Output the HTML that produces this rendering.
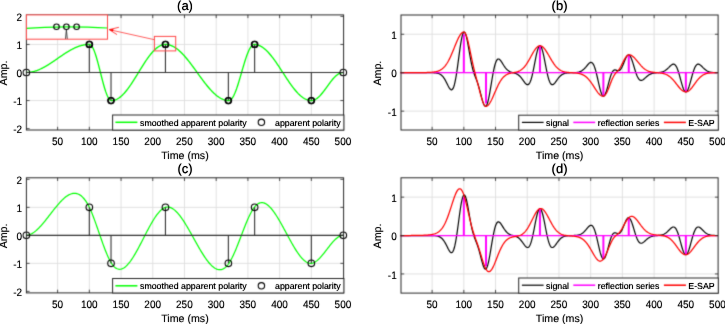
<!DOCTYPE html><html><head><meta charset="utf-8"><style>html,body{margin:0;padding:0;background:#fff;}svg{display:block;}</style></head><body><svg width="725" height="324" viewBox="0 0 725 324" text-rendering="geometricPrecision">
<defs><filter id="bl" x="0" y="0" width="1" height="1" color-interpolation-filters="sRGB"><feConvolveMatrix order="3" kernelMatrix="0.02 0.1 0.02 0.1 0.52 0.1 0.02 0.1 0.02" edgeMode="duplicate"/></filter><filter id="bt" x="0" y="0" width="1" height="1" color-interpolation-filters="sRGB"><feConvolveMatrix order="3" kernelMatrix="0 0.04 0 0.04 0.84 0.04 0 0.04 0" edgeMode="none"/><feComponentTransfer><feFuncA type="linear" slope="1.30"/></feComponentTransfer></filter></defs>
<g filter="url(#bl)">
<rect width="725" height="324" fill="#fff"/>
<g stroke="#dedede" stroke-width="0.90"><line x1="57.62" y1="14.90" x2="57.62" y2="130.00"/><line x1="89.33" y1="14.90" x2="89.33" y2="130.00"/><line x1="121.05" y1="14.90" x2="121.05" y2="130.00"/><line x1="152.76" y1="14.90" x2="152.76" y2="130.00"/><line x1="184.48" y1="14.90" x2="184.48" y2="130.00"/><line x1="216.19" y1="14.90" x2="216.19" y2="130.00"/><line x1="247.91" y1="14.90" x2="247.91" y2="130.00"/><line x1="279.62" y1="14.90" x2="279.62" y2="130.00"/><line x1="311.34" y1="14.90" x2="311.34" y2="130.00"/><line x1="26.40" y1="100.55" x2="343.60" y2="100.55"/><line x1="26.40" y1="72.50" x2="343.60" y2="72.50"/><line x1="26.40" y1="44.45" x2="343.60" y2="44.45"/></g>
<path d="M25.90,72.50 L26.53,72.49 L27.17,72.47 L27.80,72.44 L28.44,72.39 L29.07,72.33 L29.71,72.25 L30.34,72.16 L30.97,72.06 L31.61,71.94 L32.24,71.81 L32.88,71.67 L33.51,71.52 L34.15,71.35 L34.78,71.17 L35.41,70.97 L36.05,70.77 L36.68,70.55 L37.32,70.32 L37.95,70.07 L38.59,69.82 L39.22,69.56 L39.85,69.28 L40.49,69.00 L41.12,68.70 L41.76,68.39 L42.39,68.08 L43.03,67.75 L43.66,67.41 L44.29,67.07 L44.93,66.72 L45.56,66.36 L46.20,65.99 L46.83,65.61 L47.47,65.23 L48.10,64.84 L48.73,64.45 L49.37,64.04 L50.00,63.64 L50.64,63.23 L51.27,62.81 L51.91,62.39 L52.54,61.96 L53.17,61.53 L53.81,61.10 L54.44,60.67 L55.08,60.23 L55.71,59.79 L56.35,59.36 L56.98,58.92 L57.62,58.48 L58.25,58.03 L58.88,57.59 L59.52,57.16 L60.15,56.72 L60.79,56.28 L61.42,55.85 L62.06,55.42 L62.69,54.99 L63.32,54.56 L63.96,54.14 L64.59,53.72 L65.23,53.31 L65.86,52.91 L66.50,52.50 L67.13,52.11 L67.76,51.72 L68.40,51.34 L69.03,50.96 L69.67,50.59 L70.30,50.23 L70.94,49.88 L71.57,49.54 L72.20,49.20 L72.84,48.87 L73.47,48.56 L74.11,48.25 L74.74,47.95 L75.38,47.67 L76.01,47.39 L76.64,47.13 L77.28,46.88 L77.91,46.63 L78.55,46.40 L79.18,46.18 L79.82,45.98 L80.45,45.78 L81.08,45.60 L81.72,45.43 L82.35,45.28 L82.99,45.14 L83.62,45.01 L84.26,44.89 L84.89,44.79 L85.52,44.70 L86.16,44.62 L86.79,44.56 L87.43,44.51 L88.06,44.48 L88.70,44.46 L89.33,44.45 L89.96,44.56 L90.60,44.90 L91.23,45.46 L91.87,46.24 L92.50,47.23 L93.14,48.42 L93.77,49.81 L94.40,51.38 L95.04,53.12 L95.67,55.01 L96.31,57.05 L96.94,59.21 L97.58,61.48 L98.21,63.83 L98.84,66.26 L99.48,68.73 L100.11,71.24 L100.75,73.76 L101.38,76.27 L102.02,78.74 L102.65,81.17 L103.28,83.52 L103.92,85.79 L104.55,87.95 L105.19,89.99 L105.82,91.88 L106.46,93.62 L107.09,95.19 L107.72,96.58 L108.36,97.77 L108.99,98.76 L109.63,99.54 L110.26,100.10 L110.90,100.44 L111.53,100.55 L112.16,100.53 L112.80,100.47 L113.43,100.38 L114.07,100.24 L114.70,100.07 L115.34,99.86 L115.97,99.62 L116.60,99.33 L117.24,99.01 L117.87,98.66 L118.51,98.26 L119.14,97.84 L119.78,97.37 L120.41,96.88 L121.05,96.35 L121.68,95.79 L122.31,95.19 L122.95,94.57 L123.58,93.91 L124.22,93.23 L124.85,92.52 L125.49,91.78 L126.12,91.01 L126.75,90.22 L127.39,89.40 L128.02,88.57 L128.66,87.70 L129.29,86.82 L129.93,85.92 L130.56,85.00 L131.19,84.07 L131.83,83.11 L132.46,82.15 L133.10,81.17 L133.73,80.18 L134.37,79.17 L135.00,78.16 L135.63,77.14 L136.27,76.12 L136.90,75.09 L137.54,74.05 L138.17,73.02 L138.81,71.98 L139.44,70.95 L140.07,69.91 L140.71,68.88 L141.34,67.86 L141.98,66.84 L142.61,65.83 L143.25,64.82 L143.88,63.83 L144.51,62.85 L145.15,61.89 L145.78,60.93 L146.42,60.00 L147.05,59.08 L147.69,58.18 L148.32,57.30 L148.95,56.43 L149.59,55.60 L150.22,54.78 L150.86,53.99 L151.49,53.22 L152.13,52.48 L152.76,51.77 L153.39,51.09 L154.03,50.43 L154.66,49.81 L155.30,49.21 L155.93,48.65 L156.57,48.12 L157.20,47.63 L157.83,47.16 L158.47,46.74 L159.10,46.34 L159.74,45.99 L160.37,45.67 L161.01,45.38 L161.64,45.14 L162.27,44.93 L162.91,44.76 L163.54,44.62 L164.18,44.53 L164.81,44.47 L165.45,44.45 L166.08,44.46 L166.71,44.51 L167.35,44.57 L167.98,44.67 L168.62,44.80 L169.25,44.95 L169.89,45.13 L170.52,45.33 L171.15,45.56 L171.79,45.82 L172.42,46.11 L173.06,46.42 L173.69,46.76 L174.33,47.12 L174.96,47.51 L175.59,47.92 L176.23,48.36 L176.86,48.82 L177.50,49.30 L178.13,49.81 L178.77,50.34 L179.40,50.89 L180.03,51.46 L180.67,52.05 L181.30,52.67 L181.94,53.30 L182.57,53.95 L183.21,54.62 L183.84,55.31 L184.48,56.01 L185.11,56.73 L185.74,57.47 L186.38,58.22 L187.01,58.99 L187.65,59.77 L188.28,60.56 L188.92,61.36 L189.55,62.17 L190.18,63.00 L190.82,63.83 L191.45,64.67 L192.09,65.52 L192.72,66.38 L193.36,67.24 L193.99,68.11 L194.62,68.98 L195.26,69.86 L195.89,70.74 L196.53,71.62 L197.16,72.50 L197.80,73.38 L198.43,74.26 L199.06,75.14 L199.70,76.02 L200.33,76.89 L200.97,77.76 L201.60,78.62 L202.24,79.48 L202.87,80.33 L203.50,81.17 L204.14,82.00 L204.77,82.83 L205.41,83.64 L206.04,84.44 L206.68,85.23 L207.31,86.01 L207.94,86.78 L208.58,87.53 L209.21,88.27 L209.85,88.99 L210.48,89.69 L211.12,90.38 L211.75,91.05 L212.38,91.70 L213.02,92.33 L213.65,92.95 L214.29,93.54 L214.92,94.11 L215.56,94.66 L216.19,95.19 L216.82,95.70 L217.46,96.18 L218.09,96.64 L218.73,97.08 L219.36,97.49 L220.00,97.88 L220.63,98.24 L221.26,98.58 L221.90,98.89 L222.53,99.18 L223.17,99.44 L223.80,99.67 L224.44,99.87 L225.07,100.05 L225.70,100.20 L226.34,100.33 L226.97,100.43 L227.61,100.49 L228.24,100.54 L228.88,100.55 L229.51,100.46 L230.14,100.20 L230.78,99.77 L231.41,99.18 L232.05,98.41 L232.68,97.49 L233.32,96.42 L233.95,95.19 L234.58,93.83 L235.22,92.33 L235.85,90.72 L236.49,88.99 L237.12,87.16 L237.76,85.23 L238.39,83.23 L239.02,81.17 L239.66,79.05 L240.29,76.89 L240.93,74.70 L241.56,72.50 L242.20,70.30 L242.83,68.11 L243.46,65.95 L244.10,63.83 L244.73,61.77 L245.37,59.77 L246.00,57.84 L246.64,56.01 L247.27,54.28 L247.91,52.67 L248.54,51.17 L249.17,49.81 L249.81,48.58 L250.44,47.51 L251.08,46.59 L251.71,45.82 L252.35,45.23 L252.98,44.80 L253.61,44.54 L254.25,44.45 L254.88,44.47 L255.52,44.52 L256.15,44.60 L256.79,44.72 L257.42,44.88 L258.05,45.06 L258.69,45.28 L259.32,45.54 L259.96,45.82 L260.59,46.14 L261.23,46.49 L261.86,46.88 L262.49,47.29 L263.13,47.73 L263.76,48.21 L264.40,48.71 L265.03,49.25 L265.67,49.81 L266.30,50.40 L266.93,51.01 L267.57,51.65 L268.20,52.32 L268.84,53.01 L269.47,53.73 L270.11,54.47 L270.74,55.23 L271.37,56.01 L272.01,56.81 L272.64,57.64 L273.28,58.47 L273.91,59.33 L274.55,60.20 L275.18,61.09 L275.81,61.99 L276.45,62.91 L277.08,63.83 L277.72,64.77 L278.35,65.71 L278.99,66.67 L279.62,67.63 L280.25,68.60 L280.89,69.57 L281.52,70.54 L282.16,71.52 L282.79,72.50 L283.43,73.48 L284.06,74.46 L284.69,75.43 L285.33,76.40 L285.96,77.37 L286.60,78.33 L287.23,79.29 L287.87,80.23 L288.50,81.17 L289.13,82.09 L289.77,83.01 L290.40,83.91 L291.04,84.80 L291.67,85.67 L292.31,86.52 L292.94,87.36 L293.57,88.19 L294.21,88.99 L294.84,89.77 L295.48,90.53 L296.11,91.27 L296.75,91.99 L297.38,92.68 L298.01,93.35 L298.65,93.99 L299.28,94.60 L299.92,95.19 L300.55,95.75 L301.19,96.29 L301.82,96.79 L302.45,97.27 L303.09,97.71 L303.72,98.12 L304.36,98.51 L304.99,98.86 L305.63,99.18 L306.26,99.46 L306.89,99.72 L307.53,99.94 L308.16,100.12 L308.80,100.28 L309.43,100.40 L310.07,100.48 L310.70,100.53 L311.34,100.55 L311.97,100.52 L312.60,100.44 L313.24,100.30 L313.87,100.11 L314.51,99.86 L315.14,99.57 L315.78,99.22 L316.41,98.82 L317.04,98.37 L317.68,97.87 L318.31,97.33 L318.95,96.75 L319.58,96.13 L320.22,95.46 L320.85,94.77 L321.48,94.04 L322.12,93.28 L322.75,92.50 L323.39,91.69 L324.02,90.86 L324.66,90.01 L325.29,89.15 L325.92,88.28 L326.56,87.41 L327.19,86.53 L327.83,85.64 L328.46,84.77 L329.10,83.90 L329.73,83.04 L330.36,82.19 L331.00,81.36 L331.63,80.55 L332.27,79.77 L332.90,79.01 L333.54,78.28 L334.17,77.59 L334.80,76.92 L335.44,76.30 L336.07,75.72 L336.71,75.18 L337.34,74.68 L337.98,74.23 L338.61,73.83 L339.24,73.48 L339.88,73.19 L340.51,72.94 L341.15,72.75 L341.78,72.61 L342.42,72.53 L343.05,72.50" fill="none" stroke="#00ff00" stroke-width="1.30" stroke-linejoin="round"/>
<g stroke="#333" stroke-width="1.1"><line x1="26.40" y1="72.50" x2="343.60" y2="72.50"/><line x1="89.33" y1="72.50" x2="89.33" y2="44.45"/><line x1="111.02" y1="72.50" x2="111.02" y2="100.55"/><line x1="165.45" y1="72.50" x2="165.45" y2="44.45"/><line x1="228.37" y1="72.50" x2="228.37" y2="100.55"/><line x1="254.63" y1="72.50" x2="254.63" y2="44.45"/><line x1="311.34" y1="72.50" x2="311.34" y2="100.55"/></g>
<g fill="none" stroke="#000"><circle cx="26.35" cy="72.50" r="3.3" stroke-width="1.1"/><circle cx="89.13" cy="44.45" r="3.0" stroke-width="1.3"/><circle cx="89.53" cy="44.45" r="3.0" stroke-width="1.3"/><circle cx="110.82" cy="100.55" r="3.0" stroke-width="1.3"/><circle cx="111.22" cy="100.55" r="3.0" stroke-width="1.3"/><circle cx="165.25" cy="44.45" r="3.0" stroke-width="1.3"/><circle cx="165.65" cy="44.45" r="3.0" stroke-width="1.3"/><circle cx="228.17" cy="100.55" r="3.0" stroke-width="1.3"/><circle cx="228.57" cy="100.55" r="3.0" stroke-width="1.3"/><circle cx="254.43" cy="44.45" r="3.0" stroke-width="1.3"/><circle cx="254.83" cy="44.45" r="3.0" stroke-width="1.3"/><circle cx="311.14" cy="100.55" r="3.0" stroke-width="1.3"/><circle cx="311.54" cy="100.55" r="3.0" stroke-width="1.3"/><circle cx="343.30" cy="72.50" r="3.3" stroke-width="1.1"/></g>
<g stroke="#262626" stroke-width="0.8"><line x1="57.62" y1="130.00" x2="57.62" y2="126.80"/><line x1="57.62" y1="14.90" x2="57.62" y2="18.10"/><line x1="89.33" y1="130.00" x2="89.33" y2="126.80"/><line x1="89.33" y1="14.90" x2="89.33" y2="18.10"/><line x1="121.05" y1="130.00" x2="121.05" y2="126.80"/><line x1="121.05" y1="14.90" x2="121.05" y2="18.10"/><line x1="152.76" y1="130.00" x2="152.76" y2="126.80"/><line x1="152.76" y1="14.90" x2="152.76" y2="18.10"/><line x1="184.48" y1="130.00" x2="184.48" y2="126.80"/><line x1="184.48" y1="14.90" x2="184.48" y2="18.10"/><line x1="216.19" y1="130.00" x2="216.19" y2="126.80"/><line x1="216.19" y1="14.90" x2="216.19" y2="18.10"/><line x1="247.91" y1="130.00" x2="247.91" y2="126.80"/><line x1="247.91" y1="14.90" x2="247.91" y2="18.10"/><line x1="279.62" y1="130.00" x2="279.62" y2="126.80"/><line x1="279.62" y1="14.90" x2="279.62" y2="18.10"/><line x1="311.34" y1="130.00" x2="311.34" y2="126.80"/><line x1="311.34" y1="14.90" x2="311.34" y2="18.10"/><line x1="26.40" y1="128.60" x2="29.60" y2="128.60"/><line x1="343.60" y1="128.60" x2="340.40" y2="128.60"/><line x1="26.40" y1="100.55" x2="29.60" y2="100.55"/><line x1="343.60" y1="100.55" x2="340.40" y2="100.55"/><line x1="26.40" y1="72.50" x2="29.60" y2="72.50"/><line x1="343.60" y1="72.50" x2="340.40" y2="72.50"/><line x1="26.40" y1="44.45" x2="29.60" y2="44.45"/><line x1="343.60" y1="44.45" x2="340.40" y2="44.45"/><line x1="26.40" y1="16.40" x2="29.60" y2="16.40"/><line x1="343.60" y1="16.40" x2="340.40" y2="16.40"/></g>
<rect x="26.40" y="14.90" width="317.20" height="115.10" fill="none" stroke="#262626" stroke-width="1.00"/>
<rect x="112.60" y="115.00" width="231.30" height="15.10" fill="#fff" stroke="#262626" stroke-width="1.00"/>
<line x1="115.4" y1="122.30" x2="137.4" y2="122.30" stroke="#00ff00" stroke-width="1.5"/>
<circle cx="261.4" cy="122.30" r="3.2" fill="none" stroke="#000" stroke-width="1.1"/>
<g stroke="#dedede" stroke-width="0.90"><line x1="57.62" y1="177.80" x2="57.62" y2="292.90"/><line x1="89.33" y1="177.80" x2="89.33" y2="292.90"/><line x1="121.05" y1="177.80" x2="121.05" y2="292.90"/><line x1="152.76" y1="177.80" x2="152.76" y2="292.90"/><line x1="184.48" y1="177.80" x2="184.48" y2="292.90"/><line x1="216.19" y1="177.80" x2="216.19" y2="292.90"/><line x1="247.91" y1="177.80" x2="247.91" y2="292.90"/><line x1="279.62" y1="177.80" x2="279.62" y2="292.90"/><line x1="311.34" y1="177.80" x2="311.34" y2="292.90"/><line x1="26.40" y1="263.35" x2="343.60" y2="263.35"/><line x1="26.40" y1="235.35" x2="343.60" y2="235.35"/><line x1="26.40" y1="207.35" x2="343.60" y2="207.35"/></g>
<path d="M25.90,235.35 L26.53,235.33 L27.17,235.27 L27.80,235.16 L28.44,235.02 L29.07,234.84 L29.71,234.62 L30.34,234.36 L30.97,234.07 L31.61,233.75 L32.24,233.39 L32.88,233.00 L33.51,232.58 L34.15,232.13 L34.78,231.65 L35.41,231.15 L36.05,230.62 L36.68,230.06 L37.32,229.48 L37.95,228.88 L38.59,228.26 L39.22,227.61 L39.85,226.95 L40.49,226.27 L41.12,225.57 L41.76,224.85 L42.39,224.12 L43.03,223.37 L43.66,222.62 L44.29,221.85 L44.93,221.07 L45.56,220.28 L46.20,219.48 L46.83,218.68 L47.47,217.87 L48.10,217.06 L48.73,216.24 L49.37,215.42 L50.00,214.59 L50.64,213.77 L51.27,212.95 L51.91,212.13 L52.54,211.31 L53.17,210.50 L53.81,209.69 L54.44,208.89 L55.08,208.10 L55.71,207.31 L56.35,206.53 L56.98,205.77 L57.62,205.02 L58.25,204.28 L58.88,203.55 L59.52,202.84 L60.15,202.15 L60.79,201.47 L61.42,200.81 L62.06,200.17 L62.69,199.56 L63.32,198.96 L63.96,198.39 L64.59,197.84 L65.23,197.32 L65.86,196.82 L66.50,196.36 L67.13,195.92 L67.76,195.51 L68.40,195.13 L69.03,194.78 L69.67,194.47 L70.30,194.19 L70.94,193.95 L71.57,193.74 L72.20,193.57 L72.84,193.44 L73.47,193.35 L74.11,193.30 L74.74,193.29 L75.38,193.33 L76.01,193.41 L76.64,193.54 L77.28,193.71 L77.91,193.93 L78.55,194.20 L79.18,194.52 L79.82,194.89 L80.45,195.31 L81.08,195.79 L81.72,196.32 L82.35,196.91 L82.99,197.55 L83.62,198.25 L84.26,199.01 L84.89,199.83 L85.52,200.71 L86.16,201.66 L86.79,202.66 L87.43,203.74 L88.06,204.87 L88.70,206.08 L89.33,207.35 L89.96,208.69 L90.60,210.10 L91.23,211.56 L91.87,213.08 L92.50,214.65 L93.14,216.27 L93.77,217.93 L94.40,219.63 L95.04,221.36 L95.67,223.12 L96.31,224.91 L96.94,226.71 L97.58,228.53 L98.21,230.36 L98.84,232.20 L99.48,234.04 L100.11,235.87 L100.75,237.70 L101.38,239.52 L102.02,241.32 L102.65,243.10 L103.28,244.86 L103.92,246.58 L104.55,248.27 L105.19,249.93 L105.82,251.54 L106.46,253.10 L107.09,254.61 L107.72,256.06 L108.36,257.46 L108.99,258.78 L109.63,260.04 L110.26,261.22 L110.90,262.33 L111.53,263.35 L112.16,264.28 L112.80,265.13 L113.43,265.90 L114.07,266.58 L114.70,267.18 L115.34,267.70 L115.97,268.14 L116.60,268.51 L117.24,268.80 L117.87,269.03 L118.51,269.18 L119.14,269.26 L119.78,269.28 L120.41,269.23 L121.05,269.11 L121.68,268.94 L122.31,268.70 L122.95,268.41 L123.58,268.06 L124.22,267.66 L124.85,267.20 L125.49,266.69 L126.12,266.13 L126.75,265.53 L127.39,264.88 L128.02,264.18 L128.66,263.44 L129.29,262.66 L129.93,261.84 L130.56,260.99 L131.19,260.09 L131.83,259.17 L132.46,258.21 L133.10,257.22 L133.73,256.21 L134.37,255.16 L135.00,254.09 L135.63,253.00 L136.27,251.89 L136.90,250.75 L137.54,249.60 L138.17,248.43 L138.81,247.25 L139.44,246.05 L140.07,244.85 L140.71,243.63 L141.34,242.41 L141.98,241.18 L142.61,239.94 L143.25,238.70 L143.88,237.47 L144.51,236.23 L145.15,234.99 L145.78,233.76 L146.42,232.54 L147.05,231.32 L147.69,230.12 L148.32,228.92 L148.95,227.74 L149.59,226.58 L150.22,225.43 L150.86,224.29 L151.49,223.18 L152.13,222.09 L152.76,221.03 L153.39,219.99 L154.03,218.97 L154.66,217.99 L155.30,217.03 L155.93,216.11 L156.57,215.22 L157.20,214.37 L157.83,213.56 L158.47,212.78 L159.10,212.05 L159.74,211.36 L160.37,210.71 L161.01,210.11 L161.64,209.56 L162.27,209.06 L162.91,208.61 L163.54,208.21 L164.18,207.86 L164.81,207.58 L165.45,207.35 L166.08,207.18 L166.71,207.07 L167.35,207.02 L167.98,207.02 L168.62,207.08 L169.25,207.20 L169.89,207.36 L170.52,207.58 L171.15,207.84 L171.79,208.15 L172.42,208.51 L173.06,208.92 L173.69,209.37 L174.33,209.86 L174.96,210.39 L175.59,210.96 L176.23,211.58 L176.86,212.22 L177.50,212.91 L178.13,213.63 L178.77,214.38 L179.40,215.16 L180.03,215.98 L180.67,216.82 L181.30,217.69 L181.94,218.59 L182.57,219.51 L183.21,220.46 L183.84,221.43 L184.48,222.42 L185.11,223.43 L185.74,224.45 L186.38,225.50 L187.01,226.56 L187.65,227.63 L188.28,228.72 L188.92,229.82 L189.55,230.93 L190.18,232.05 L190.82,233.17 L191.45,234.30 L192.09,235.44 L192.72,236.58 L193.36,237.72 L193.99,238.87 L194.62,240.01 L195.26,241.15 L195.89,242.29 L196.53,243.42 L197.16,244.54 L197.80,245.66 L198.43,246.77 L199.06,247.87 L199.70,248.96 L200.33,250.04 L200.97,251.10 L201.60,252.15 L202.24,253.18 L202.87,254.19 L203.50,255.18 L204.14,256.15 L204.77,257.10 L205.41,258.03 L206.04,258.93 L206.68,259.80 L207.31,260.65 L207.94,261.47 L208.58,262.25 L209.21,263.01 L209.85,263.73 L210.48,264.42 L211.12,265.07 L211.75,265.69 L212.38,266.26 L213.02,266.80 L213.65,267.30 L214.29,267.75 L214.92,268.16 L215.56,268.52 L216.19,268.84 L216.82,269.11 L217.46,269.33 L218.09,269.50 L218.73,269.62 L219.36,269.69 L220.00,269.70 L220.63,269.65 L221.26,269.55 L221.90,269.39 L222.53,269.17 L223.17,268.88 L223.80,268.54 L224.44,268.13 L225.07,267.65 L225.70,267.11 L226.34,266.50 L226.97,265.82 L227.61,265.07 L228.24,264.25 L228.88,263.35 L229.51,262.38 L230.14,261.34 L230.78,260.23 L231.41,259.06 L232.05,257.83 L232.68,256.54 L233.32,255.20 L233.95,253.81 L234.58,252.38 L235.22,250.91 L235.85,249.41 L236.49,247.87 L237.12,246.30 L237.76,244.71 L238.39,243.09 L239.02,241.47 L239.66,239.82 L240.29,238.17 L240.93,236.51 L241.56,234.85 L242.20,233.20 L242.83,231.55 L243.46,229.91 L244.10,228.28 L244.73,226.68 L245.37,225.09 L246.00,223.53 L246.64,222.00 L247.27,220.50 L247.91,219.04 L248.54,217.63 L249.17,216.25 L249.81,214.93 L250.44,213.66 L251.08,212.44 L251.71,211.29 L252.35,210.20 L252.98,209.17 L253.61,208.22 L254.25,207.35 L254.88,206.56 L255.52,205.84 L256.15,205.20 L256.79,204.63 L257.42,204.14 L258.05,203.72 L258.69,203.37 L259.32,203.09 L259.96,202.88 L260.59,202.73 L261.23,202.65 L261.86,202.63 L262.49,202.67 L263.13,202.77 L263.76,202.92 L264.40,203.14 L265.03,203.40 L265.67,203.73 L266.30,204.10 L266.93,204.52 L267.57,204.99 L268.20,205.50 L268.84,206.07 L269.47,206.67 L270.11,207.32 L270.74,208.00 L271.37,208.73 L272.01,209.49 L272.64,210.29 L273.28,211.12 L273.91,211.99 L274.55,212.88 L275.18,213.81 L275.81,214.76 L276.45,215.74 L277.08,216.74 L277.72,217.77 L278.35,218.82 L278.99,219.88 L279.62,220.97 L280.25,222.07 L280.89,223.19 L281.52,224.32 L282.16,225.46 L282.79,226.61 L283.43,227.77 L284.06,228.94 L284.69,230.11 L285.33,231.29 L285.96,232.47 L286.60,233.65 L287.23,234.82 L287.87,236.00 L288.50,237.17 L289.13,238.34 L289.77,239.50 L290.40,240.65 L291.04,241.79 L291.67,242.92 L292.31,244.04 L292.94,245.14 L293.57,246.22 L294.21,247.28 L294.84,248.33 L295.48,249.35 L296.11,250.35 L296.75,251.33 L297.38,252.28 L298.01,253.20 L298.65,254.09 L299.28,254.96 L299.92,255.79 L300.55,256.58 L301.19,257.34 L301.82,258.06 L302.45,258.75 L303.09,259.39 L303.72,259.99 L304.36,260.55 L304.99,261.06 L305.63,261.53 L306.26,261.94 L306.89,262.31 L307.53,262.63 L308.16,262.89 L308.80,263.10 L309.43,263.25 L310.07,263.34 L310.70,263.38 L311.34,263.35 L311.97,263.26 L312.60,263.11 L313.24,262.91 L313.87,262.65 L314.51,262.33 L315.14,261.97 L315.78,261.56 L316.41,261.10 L317.04,260.61 L317.68,260.07 L318.31,259.50 L318.95,258.89 L319.58,258.25 L320.22,257.58 L320.85,256.88 L321.48,256.16 L322.12,255.41 L322.75,254.65 L323.39,253.87 L324.02,253.08 L324.66,252.27 L325.29,251.46 L325.92,250.64 L326.56,249.82 L327.19,248.99 L327.83,248.17 L328.46,247.34 L329.10,246.53 L329.73,245.72 L330.36,244.93 L331.00,244.15 L331.63,243.38 L332.27,242.64 L332.90,241.92 L333.54,241.22 L334.17,240.54 L334.80,239.90 L335.44,239.29 L336.07,238.71 L336.71,238.17 L337.34,237.67 L337.98,237.21 L338.61,236.79 L339.24,236.43 L339.88,236.11 L340.51,235.84 L341.15,235.63 L341.78,235.48 L342.42,235.38 L343.05,235.35" fill="none" stroke="#00ff00" stroke-width="1.20" stroke-linejoin="round"/>
<g stroke="#333" stroke-width="1.1"><line x1="26.40" y1="235.35" x2="343.60" y2="235.35"/><line x1="89.33" y1="235.35" x2="89.33" y2="207.35"/><line x1="111.02" y1="235.35" x2="111.02" y2="263.35"/><line x1="165.45" y1="235.35" x2="165.45" y2="207.35"/><line x1="228.37" y1="235.35" x2="228.37" y2="263.35"/><line x1="254.63" y1="235.35" x2="254.63" y2="207.35"/><line x1="311.34" y1="235.35" x2="311.34" y2="263.35"/></g>
<g fill="none" stroke="#000"><circle cx="26.35" cy="235.35" r="3.3" stroke-width="1.1"/><circle cx="89.33" cy="207.35" r="3.3" stroke-width="1.1"/><circle cx="111.02" cy="263.35" r="3.3" stroke-width="1.1"/><circle cx="165.45" cy="207.35" r="3.3" stroke-width="1.1"/><circle cx="228.37" cy="263.35" r="3.3" stroke-width="1.1"/><circle cx="254.63" cy="207.35" r="3.3" stroke-width="1.1"/><circle cx="311.34" cy="263.35" r="3.3" stroke-width="1.1"/><circle cx="343.30" cy="235.35" r="3.3" stroke-width="1.1"/></g>
<g stroke="#262626" stroke-width="0.8"><line x1="57.62" y1="292.90" x2="57.62" y2="289.70"/><line x1="57.62" y1="177.80" x2="57.62" y2="181.00"/><line x1="89.33" y1="292.90" x2="89.33" y2="289.70"/><line x1="89.33" y1="177.80" x2="89.33" y2="181.00"/><line x1="121.05" y1="292.90" x2="121.05" y2="289.70"/><line x1="121.05" y1="177.80" x2="121.05" y2="181.00"/><line x1="152.76" y1="292.90" x2="152.76" y2="289.70"/><line x1="152.76" y1="177.80" x2="152.76" y2="181.00"/><line x1="184.48" y1="292.90" x2="184.48" y2="289.70"/><line x1="184.48" y1="177.80" x2="184.48" y2="181.00"/><line x1="216.19" y1="292.90" x2="216.19" y2="289.70"/><line x1="216.19" y1="177.80" x2="216.19" y2="181.00"/><line x1="247.91" y1="292.90" x2="247.91" y2="289.70"/><line x1="247.91" y1="177.80" x2="247.91" y2="181.00"/><line x1="279.62" y1="292.90" x2="279.62" y2="289.70"/><line x1="279.62" y1="177.80" x2="279.62" y2="181.00"/><line x1="311.34" y1="292.90" x2="311.34" y2="289.70"/><line x1="311.34" y1="177.80" x2="311.34" y2="181.00"/><line x1="26.40" y1="291.35" x2="29.60" y2="291.35"/><line x1="343.60" y1="291.35" x2="340.40" y2="291.35"/><line x1="26.40" y1="263.35" x2="29.60" y2="263.35"/><line x1="343.60" y1="263.35" x2="340.40" y2="263.35"/><line x1="26.40" y1="235.35" x2="29.60" y2="235.35"/><line x1="343.60" y1="235.35" x2="340.40" y2="235.35"/><line x1="26.40" y1="207.35" x2="29.60" y2="207.35"/><line x1="343.60" y1="207.35" x2="340.40" y2="207.35"/><line x1="26.40" y1="179.35" x2="29.60" y2="179.35"/><line x1="343.60" y1="179.35" x2="340.40" y2="179.35"/></g>
<rect x="26.40" y="177.80" width="317.20" height="115.10" fill="none" stroke="#262626" stroke-width="1.00"/>
<rect x="112.60" y="278.50" width="231.30" height="14.50" fill="#fff" stroke="#262626" stroke-width="1.00"/>
<line x1="115.4" y1="285.80" x2="137.4" y2="285.80" stroke="#00ff00" stroke-width="1.5"/>
<circle cx="261.4" cy="285.80" r="3.2" fill="none" stroke="#000" stroke-width="1.1"/>
<g stroke="#dedede" stroke-width="0.90"><line x1="432.11" y1="15.00" x2="432.11" y2="130.00"/><line x1="463.83" y1="15.00" x2="463.83" y2="130.00"/><line x1="495.54" y1="15.00" x2="495.54" y2="130.00"/><line x1="527.26" y1="15.00" x2="527.26" y2="130.00"/><line x1="558.97" y1="15.00" x2="558.97" y2="130.00"/><line x1="590.69" y1="15.00" x2="590.69" y2="130.00"/><line x1="622.40" y1="15.00" x2="622.40" y2="130.00"/><line x1="654.12" y1="15.00" x2="654.12" y2="130.00"/><line x1="685.84" y1="15.00" x2="685.84" y2="130.00"/><line x1="401.00" y1="111.15" x2="718.10" y2="111.15"/><line x1="401.00" y1="72.70" x2="718.10" y2="72.70"/><line x1="401.00" y1="34.25" x2="718.10" y2="34.25"/></g>
<path d="M400.40,72.70 L401.03,72.70 L401.67,72.70 L402.30,72.70 L402.94,72.70 L403.57,72.70 L404.21,72.70 L404.84,72.70 L405.47,72.70 L406.11,72.70 L406.74,72.70 L407.38,72.70 L408.01,72.70 L408.65,72.70 L409.28,72.70 L409.91,72.70 L410.55,72.70 L411.18,72.70 L411.82,72.70 L412.45,72.70 L413.09,72.70 L413.72,72.70 L414.35,72.70 L414.99,72.70 L415.62,72.70 L416.26,72.70 L416.89,72.70 L417.53,72.70 L418.16,72.70 L418.79,72.70 L419.43,72.70 L420.06,72.70 L420.70,72.70 L421.33,72.70 L421.97,72.70 L422.60,72.70 L423.23,72.70 L423.87,72.70 L424.50,72.70 L425.14,72.70 L425.77,72.70 L426.41,72.70 L427.04,72.70 L427.67,72.70 L428.31,72.70 L428.94,72.71 L429.58,72.71 L430.21,72.71 L430.85,72.72 L431.48,72.73 L432.11,72.74 L432.75,72.75 L433.38,72.77 L434.02,72.80 L434.65,72.84 L435.29,72.89 L435.92,72.96 L436.56,73.05 L437.19,73.17 L437.82,73.32 L438.46,73.51 L439.09,73.74 L439.73,74.04 L440.36,74.40 L441.00,74.83 L441.63,75.35 L442.26,75.96 L442.90,76.67 L443.53,77.48 L444.17,78.40 L444.80,79.42 L445.44,80.54 L446.07,81.73 L446.70,82.99 L447.34,84.26 L447.97,85.53 L448.61,86.74 L449.24,87.83 L449.88,88.75 L450.51,89.43 L451.14,89.80 L451.78,89.80 L452.41,89.36 L453.05,88.43 L453.68,86.97 L454.32,84.95 L454.95,82.37 L455.58,79.24 L456.22,75.60 L456.85,71.52 L457.49,67.09 L458.12,62.42 L458.76,57.64 L459.39,52.90 L460.02,48.33 L460.66,44.09 L461.29,40.33 L461.93,37.16 L462.56,34.69 L463.20,33.00 L463.83,32.13 L464.46,32.10 L465.10,32.87 L465.73,34.40 L466.37,36.60 L467.00,39.36 L467.64,42.55 L468.27,46.04 L468.90,49.70 L469.54,53.38 L470.17,56.98 L470.81,60.41 L471.44,63.58 L472.08,66.46 L472.71,69.02 L473.34,71.30 L473.98,73.31 L474.61,75.11 L475.25,76.77 L475.88,78.37 L476.52,79.98 L477.15,81.66 L477.78,83.47 L478.42,85.45 L479.05,87.59 L479.69,89.89 L480.32,92.32 L480.96,94.80 L481.59,97.28 L482.22,99.64 L482.86,101.79 L483.49,103.63 L484.13,105.06 L484.76,105.99 L485.40,106.35 L486.03,106.11 L486.66,105.23 L487.30,103.72 L487.93,101.61 L488.57,98.97 L489.20,95.88 L489.84,92.42 L490.47,88.71 L491.10,84.87 L491.74,81.02 L492.37,77.26 L493.01,73.69 L493.64,70.42 L494.28,67.50 L494.91,64.98 L495.54,62.91 L496.18,61.29 L496.81,60.12 L497.45,59.37 L498.08,59.02 L498.72,59.02 L499.35,59.32 L499.99,59.86 L500.62,60.60 L501.25,61.47 L501.89,62.44 L502.52,63.45 L503.16,64.47 L503.79,65.47 L504.43,66.43 L505.06,67.33 L505.69,68.14 L506.33,68.88 L506.96,69.54 L507.60,70.11 L508.23,70.61 L508.87,71.03 L509.50,71.40 L510.13,71.70 L510.77,71.96 L511.40,72.19 L512.04,72.39 L512.67,72.57 L513.31,72.75 L513.94,72.92 L514.57,73.11 L515.21,73.32 L515.84,73.55 L516.48,73.83 L517.11,74.15 L517.75,74.52 L518.38,74.96 L519.01,75.46 L519.65,76.04 L520.28,76.68 L520.92,77.40 L521.55,78.18 L522.19,79.02 L522.82,79.90 L523.45,80.79 L524.09,81.68 L524.72,82.53 L525.36,83.29 L525.99,83.94 L526.63,84.41 L527.26,84.68 L527.89,84.68 L528.53,84.37 L529.16,83.72 L529.80,82.71 L530.43,81.30 L531.07,79.50 L531.70,77.32 L532.33,74.79 L532.97,71.96 L533.60,68.88 L534.24,65.65 L534.87,62.36 L535.51,59.10 L536.14,55.99 L536.77,53.13 L537.41,50.62 L538.04,48.57 L538.68,47.04 L539.31,46.10 L539.95,45.78 L540.58,46.10 L541.21,47.04 L541.85,48.57 L542.48,50.62 L543.12,53.13 L543.75,55.99 L544.39,59.10 L545.02,62.36 L545.65,65.65 L546.29,68.88 L546.92,71.96 L547.56,74.79 L548.19,77.32 L548.83,79.50 L549.46,81.30 L550.09,82.71 L550.73,83.72 L551.36,84.37 L552.00,84.68 L552.63,84.68 L553.27,84.41 L553.90,83.94 L554.53,83.29 L555.17,82.53 L555.80,81.68 L556.44,80.79 L557.07,79.90 L557.71,79.02 L558.34,78.19 L558.97,77.41 L559.61,76.69 L560.24,76.05 L560.88,75.48 L561.51,74.98 L562.15,74.55 L562.78,74.19 L563.42,73.89 L564.05,73.64 L564.68,73.43 L565.32,73.27 L565.95,73.13 L566.59,73.03 L567.22,72.95 L567.86,72.88 L568.49,72.83 L569.12,72.79 L569.76,72.76 L570.39,72.74 L571.03,72.72 L571.66,72.70 L572.30,72.69 L572.93,72.67 L573.56,72.65 L574.20,72.62 L574.83,72.59 L575.47,72.54 L576.10,72.49 L576.74,72.42 L577.37,72.33 L578.00,72.22 L578.64,72.07 L579.27,71.90 L579.91,71.68 L580.54,71.42 L581.18,71.11 L581.81,70.75 L582.44,70.32 L583.08,69.83 L583.71,69.28 L584.35,68.67 L584.98,68.00 L585.62,67.28 L586.25,66.53 L586.88,65.76 L587.52,65.00 L588.15,64.28 L588.79,63.62 L589.42,63.07 L590.06,62.66 L590.69,62.44 L591.32,62.44 L591.96,62.70 L592.59,63.25 L593.23,64.13 L593.86,65.33 L594.50,66.88 L595.13,68.75 L595.76,70.92 L596.40,73.35 L597.03,75.99 L597.67,78.76 L598.30,81.60 L598.94,84.40 L599.57,87.09 L600.20,89.56 L600.84,91.74 L601.47,93.54 L602.11,94.90 L602.74,95.78 L603.38,96.13 L604.01,95.97 L604.64,95.29 L605.28,94.15 L605.91,92.58 L606.55,90.67 L607.18,88.49 L607.82,86.14 L608.45,83.72 L609.08,81.31 L609.72,79.00 L610.35,76.87 L610.99,74.98 L611.62,73.37 L612.26,72.08 L612.89,71.10 L613.52,70.44 L614.16,70.06 L614.79,69.92 L615.43,69.97 L616.06,70.13 L616.70,70.36 L617.33,70.57 L617.96,70.71 L618.60,70.71 L619.23,70.53 L619.87,70.13 L620.50,69.50 L621.14,68.62 L621.77,67.52 L622.40,66.21 L623.04,64.75 L623.67,63.18 L624.31,61.58 L624.94,60.00 L625.58,58.53 L626.21,57.23 L626.85,56.17 L627.48,55.40 L628.11,54.98 L628.75,54.91 L629.38,55.23 L630.02,55.92 L630.65,56.98 L631.29,58.35 L631.92,60.00 L632.55,61.87 L633.19,63.90 L633.82,66.01 L634.46,68.14 L635.09,70.22 L635.73,72.21 L636.36,74.03 L636.99,75.66 L637.63,77.06 L638.26,78.22 L638.90,79.13 L639.53,79.79 L640.17,80.20 L640.80,80.40 L641.43,80.40 L642.07,80.23 L642.70,79.92 L643.34,79.51 L643.97,79.02 L644.61,78.47 L645.24,77.90 L645.87,77.33 L646.51,76.77 L647.14,76.23 L647.78,75.73 L648.41,75.27 L649.05,74.85 L649.68,74.48 L650.31,74.16 L650.95,73.89 L651.58,73.65 L652.22,73.46 L652.85,73.29 L653.49,73.16 L654.12,73.04 L654.75,72.95 L655.39,72.87 L656.02,72.81 L656.66,72.75 L657.29,72.69 L657.93,72.63 L658.56,72.57 L659.19,72.50 L659.83,72.41 L660.46,72.31 L661.10,72.19 L661.73,72.04 L662.37,71.86 L663.00,71.64 L663.63,71.38 L664.27,71.07 L664.90,70.72 L665.54,70.31 L666.17,69.85 L666.81,69.34 L667.44,68.78 L668.07,68.18 L668.71,67.56 L669.34,66.92 L669.98,66.28 L670.61,65.68 L671.25,65.13 L671.88,64.67 L672.51,64.33 L673.15,64.15 L673.78,64.15 L674.42,64.36 L675.05,64.83 L675.69,65.55 L676.32,66.56 L676.95,67.84 L677.59,69.40 L678.22,71.21 L678.86,73.23 L679.49,75.43 L680.13,77.73 L680.76,80.09 L681.39,82.41 L682.03,84.64 L682.66,86.68 L683.30,88.47 L683.93,89.94 L684.57,91.03 L685.20,91.70 L685.84,91.93 L686.47,91.70 L687.10,91.03 L687.74,89.94 L688.37,88.47 L689.01,86.68 L689.64,84.64 L690.28,82.41 L690.91,80.09 L691.54,77.73 L692.18,75.43 L692.81,73.23 L693.45,71.21 L694.08,69.40 L694.72,67.84 L695.35,66.56 L695.98,65.55 L696.62,64.83 L697.25,64.36 L697.89,64.15 L698.52,64.15 L699.16,64.33 L699.79,64.67 L700.42,65.13 L701.06,65.68 L701.69,66.28 L702.33,66.92 L702.96,67.56 L703.60,68.18 L704.23,68.78 L704.86,69.34 L705.50,69.85 L706.13,70.31 L706.77,70.72 L707.40,71.07 L708.04,71.38 L708.67,71.64 L709.30,71.85 L709.94,72.03 L710.57,72.18 L711.21,72.30 L711.84,72.39 L712.48,72.47 L713.11,72.52 L713.74,72.57 L714.38,72.60 L715.01,72.63 L715.65,72.65 L716.28,72.66 L716.92,72.67 L717.55,72.68" fill="none" stroke="#000" stroke-width="1.2" stroke-linejoin="round"/>
<g stroke="#ff00ff" stroke-width="1.2"><line x1="400.40" y1="72.70" x2="717.55" y2="72.70"/></g>
<g stroke="#ff00ff" stroke-width="2"><line x1="463.83" y1="72.70" x2="463.83" y2="34.25"/><line x1="486.03" y1="72.70" x2="486.03" y2="103.46"/><line x1="539.95" y1="72.70" x2="539.95" y2="45.79"/><line x1="603.38" y1="72.70" x2="603.38" y2="95.77"/><line x1="628.75" y1="72.70" x2="628.75" y2="55.40"/><line x1="685.84" y1="72.70" x2="685.84" y2="91.93"/></g>
<path d="M400.40,72.70 L401.03,72.70 L401.67,72.70 L402.30,72.70 L402.94,72.70 L403.57,72.70 L404.21,72.70 L404.84,72.70 L405.47,72.69 L406.11,72.69 L406.74,72.69 L407.38,72.69 L408.01,72.69 L408.65,72.69 L409.28,72.69 L409.91,72.68 L410.55,72.68 L411.18,72.68 L411.82,72.68 L412.45,72.67 L413.09,72.67 L413.72,72.67 L414.35,72.67 L414.99,72.66 L415.62,72.66 L416.26,72.66 L416.89,72.65 L417.53,72.65 L418.16,72.64 L418.79,72.64 L419.43,72.63 L420.06,72.62 L420.70,72.62 L421.33,72.61 L421.97,72.60 L422.60,72.59 L423.23,72.58 L423.87,72.57 L424.50,72.56 L425.14,72.54 L425.77,72.52 L426.41,72.51 L427.04,72.49 L427.67,72.46 L428.31,72.44 L428.94,72.41 L429.58,72.38 L430.21,72.34 L430.85,72.30 L431.48,72.25 L432.11,72.19 L432.75,72.13 L433.38,72.05 L434.02,71.97 L434.65,71.87 L435.29,71.76 L435.92,71.63 L436.56,71.48 L437.19,71.31 L437.82,71.12 L438.46,70.89 L439.09,70.64 L439.73,70.35 L440.36,70.02 L441.00,69.65 L441.63,69.23 L442.26,68.77 L442.90,68.24 L443.53,67.66 L444.17,67.02 L444.80,66.31 L445.44,65.54 L446.07,64.69 L446.70,63.77 L447.34,62.77 L447.97,61.71 L448.61,60.56 L449.24,59.35 L449.88,58.06 L450.51,56.72 L451.14,55.31 L451.78,53.84 L452.41,52.34 L453.05,50.79 L453.68,49.22 L454.32,47.64 L454.95,46.06 L455.58,44.49 L456.22,42.95 L456.85,41.45 L457.49,40.01 L458.12,38.65 L458.76,37.37 L459.39,36.21 L460.02,35.16 L460.66,34.24 L461.29,33.47 L461.93,32.85 L462.56,32.40 L463.20,32.11 L463.83,32.00 L464.46,32.22 L465.10,32.91 L465.73,34.05 L466.37,35.63 L467.00,37.59 L467.64,39.89 L468.27,42.48 L468.90,45.28 L469.54,48.24 L470.17,51.29 L470.81,54.38 L471.44,57.44 L472.08,60.45 L472.71,63.36 L473.34,66.17 L473.98,68.86 L474.61,71.44 L475.25,73.94 L475.88,76.39 L476.52,78.80 L477.15,81.22 L477.78,83.66 L478.42,86.12 L479.05,88.59 L479.69,91.06 L480.32,93.50 L480.96,95.86 L481.59,98.09 L482.22,100.15 L482.86,101.99 L483.49,103.55 L484.13,104.80 L484.76,105.69 L485.40,106.22 L486.03,106.35 L486.66,106.20 L487.30,105.88 L487.93,105.39 L488.57,104.74 L489.20,103.94 L489.84,103.00 L490.47,101.94 L491.10,100.77 L491.74,99.50 L492.37,98.15 L493.01,96.75 L493.64,95.30 L494.28,93.83 L494.91,92.35 L495.54,90.88 L496.18,89.43 L496.81,88.02 L497.45,86.64 L498.08,85.33 L498.72,84.08 L499.35,82.89 L499.99,81.78 L500.62,80.75 L501.25,79.79 L501.89,78.92 L502.52,78.12 L503.16,77.40 L503.79,76.75 L504.43,76.17 L505.06,75.65 L505.69,75.20 L506.33,74.80 L506.96,74.45 L507.60,74.15 L508.23,73.88 L508.87,73.65 L509.50,73.46 L510.13,73.28 L510.77,73.13 L511.40,73.00 L512.04,72.87 L512.67,72.76 L513.31,72.64 L513.94,72.53 L514.57,72.41 L515.21,72.28 L515.84,72.14 L516.48,71.98 L517.11,71.80 L517.75,71.59 L518.38,71.36 L519.01,71.08 L519.65,70.78 L520.28,70.42 L520.92,70.03 L521.55,69.58 L522.19,69.08 L522.82,68.52 L523.45,67.90 L524.09,67.23 L524.72,66.49 L525.36,65.69 L525.99,64.83 L526.63,63.91 L527.26,62.94 L527.89,61.92 L528.53,60.85 L529.16,59.75 L529.80,58.61 L530.43,57.46 L531.07,56.30 L531.70,55.13 L532.33,53.99 L532.97,52.87 L533.60,51.79 L534.24,50.76 L534.87,49.80 L535.51,48.92 L536.14,48.13 L536.77,47.44 L537.41,46.86 L538.04,46.40 L538.68,46.06 L539.31,45.86 L539.95,45.78 L540.58,45.84 L541.21,46.02 L541.85,46.33 L542.48,46.74 L543.12,47.27 L543.75,47.91 L544.39,48.64 L545.02,49.45 L545.65,50.34 L546.29,51.30 L546.92,52.31 L547.56,53.36 L548.19,54.44 L548.83,55.54 L549.46,56.65 L550.09,57.75 L550.73,58.85 L551.36,59.92 L552.00,60.96 L552.63,61.97 L553.27,62.93 L553.90,63.85 L554.53,64.72 L555.17,65.54 L555.80,66.30 L556.44,67.00 L557.07,67.65 L557.71,68.25 L558.34,68.79 L558.97,69.28 L559.61,69.72 L560.24,70.12 L560.88,70.47 L561.51,70.78 L562.15,71.06 L562.78,71.30 L563.42,71.51 L564.05,71.70 L564.68,71.86 L565.32,71.99 L565.95,72.11 L566.59,72.22 L567.22,72.31 L567.86,72.38 L568.49,72.45 L569.12,72.51 L569.76,72.56 L570.39,72.61 L571.03,72.66 L571.66,72.70 L572.30,72.74 L572.93,72.79 L573.56,72.83 L574.20,72.88 L574.83,72.93 L575.47,72.99 L576.10,73.06 L576.74,73.13 L577.37,73.22 L578.00,73.32 L578.64,73.44 L579.27,73.57 L579.91,73.73 L580.54,73.91 L581.18,74.11 L581.81,74.34 L582.44,74.61 L583.08,74.91 L583.71,75.24 L584.35,75.62 L584.98,76.04 L585.62,76.50 L586.25,77.01 L586.88,77.57 L587.52,78.18 L588.15,78.84 L588.79,79.55 L589.42,80.30 L590.06,81.11 L590.69,81.95 L591.32,82.84 L591.96,83.75 L592.59,84.70 L593.23,85.67 L593.86,86.65 L594.50,87.63 L595.13,88.61 L595.76,89.58 L596.40,90.52 L597.03,91.42 L597.67,92.28 L598.30,93.07 L598.94,93.80 L599.57,94.44 L600.20,95.00 L600.84,95.46 L601.47,95.81 L602.11,96.04 L602.74,96.16 L603.38,96.16 L604.01,95.98 L604.64,95.55 L605.28,94.89 L605.91,94.01 L606.55,92.94 L607.18,91.68 L607.82,90.28 L608.45,88.76 L609.08,87.16 L609.72,85.50 L610.35,83.84 L610.99,82.20 L611.62,80.61 L612.26,79.10 L612.89,77.71 L613.52,76.44 L614.16,75.31 L614.79,74.32 L615.43,73.46 L616.06,72.70 L616.70,72.01 L617.33,71.35 L617.96,70.65 L618.60,69.89 L619.23,69.03 L619.87,68.06 L620.50,66.99 L621.14,65.83 L621.77,64.61 L622.40,63.35 L623.04,62.08 L623.67,60.83 L624.31,59.64 L624.94,58.52 L625.58,57.52 L626.21,56.65 L626.85,55.93 L627.48,55.38 L628.11,55.02 L628.75,54.84 L629.38,54.82 L630.02,54.89 L630.65,55.07 L631.29,55.35 L631.92,55.71 L632.55,56.15 L633.19,56.67 L633.82,57.26 L634.46,57.90 L635.09,58.59 L635.73,59.32 L636.36,60.08 L636.99,60.85 L637.63,61.63 L638.26,62.42 L638.90,63.19 L639.53,63.96 L640.17,64.70 L640.80,65.42 L641.43,66.10 L642.07,66.75 L642.70,67.37 L643.34,67.94 L643.97,68.47 L644.61,68.97 L645.24,69.42 L645.87,69.83 L646.51,70.20 L647.14,70.53 L647.78,70.83 L648.41,71.10 L649.05,71.33 L649.68,71.54 L650.31,71.72 L650.95,71.87 L651.58,72.01 L652.22,72.13 L652.85,72.23 L653.49,72.32 L654.12,72.40 L654.75,72.47 L655.39,72.53 L656.02,72.59 L656.66,72.65 L657.29,72.70 L657.93,72.75 L658.56,72.81 L659.19,72.87 L659.83,72.94 L660.46,73.02 L661.10,73.11 L661.73,73.21 L662.37,73.33 L663.00,73.46 L663.63,73.62 L664.27,73.80 L664.90,74.01 L665.54,74.24 L666.17,74.50 L666.81,74.80 L667.44,75.14 L668.07,75.51 L668.71,75.92 L669.34,76.37 L669.98,76.86 L670.61,77.40 L671.25,77.98 L671.88,78.59 L672.51,79.25 L673.15,79.94 L673.78,80.67 L674.42,81.43 L675.05,82.21 L675.69,83.00 L676.32,83.81 L676.95,84.63 L677.59,85.44 L678.22,86.24 L678.86,87.02 L679.49,87.77 L680.13,88.48 L680.76,89.15 L681.39,89.76 L682.03,90.31 L682.66,90.78 L683.30,91.18 L683.93,91.50 L684.57,91.73 L685.20,91.88 L685.84,91.93 L686.47,91.87 L687.10,91.72 L687.74,91.46 L688.37,91.10 L689.01,90.64 L689.64,90.10 L690.28,89.48 L690.91,88.79 L691.54,88.05 L692.18,87.25 L692.81,86.42 L693.45,85.56 L694.08,84.69 L694.72,83.81 L695.35,82.93 L695.98,82.07 L696.62,81.23 L697.25,80.42 L697.89,79.65 L698.52,78.91 L699.16,78.22 L699.79,77.57 L700.42,76.98 L701.06,76.43 L701.69,75.93 L702.33,75.48 L702.96,75.08 L703.60,74.72 L704.23,74.40 L704.86,74.12 L705.50,73.88 L706.13,73.67 L706.77,73.49 L707.40,73.34 L708.04,73.21 L708.67,73.11 L709.30,73.02 L709.94,72.95 L710.57,72.89 L711.21,72.84 L711.84,72.80 L712.48,72.78 L713.11,72.75 L713.74,72.74 L714.38,72.72 L715.01,72.71 L715.65,72.71 L716.28,72.70 L716.92,72.70 L717.55,72.70" fill="none" stroke="#ff0000" stroke-width="1.25" stroke-linejoin="round"/>
<g stroke="#262626" stroke-width="0.8"><line x1="432.11" y1="130.00" x2="432.11" y2="126.80"/><line x1="432.11" y1="15.00" x2="432.11" y2="18.20"/><line x1="463.83" y1="130.00" x2="463.83" y2="126.80"/><line x1="463.83" y1="15.00" x2="463.83" y2="18.20"/><line x1="495.54" y1="130.00" x2="495.54" y2="126.80"/><line x1="495.54" y1="15.00" x2="495.54" y2="18.20"/><line x1="527.26" y1="130.00" x2="527.26" y2="126.80"/><line x1="527.26" y1="15.00" x2="527.26" y2="18.20"/><line x1="558.97" y1="130.00" x2="558.97" y2="126.80"/><line x1="558.97" y1="15.00" x2="558.97" y2="18.20"/><line x1="590.69" y1="130.00" x2="590.69" y2="126.80"/><line x1="590.69" y1="15.00" x2="590.69" y2="18.20"/><line x1="622.40" y1="130.00" x2="622.40" y2="126.80"/><line x1="622.40" y1="15.00" x2="622.40" y2="18.20"/><line x1="654.12" y1="130.00" x2="654.12" y2="126.80"/><line x1="654.12" y1="15.00" x2="654.12" y2="18.20"/><line x1="685.84" y1="130.00" x2="685.84" y2="126.80"/><line x1="685.84" y1="15.00" x2="685.84" y2="18.20"/><line x1="401.00" y1="111.15" x2="404.20" y2="111.15"/><line x1="718.10" y1="111.15" x2="714.90" y2="111.15"/><line x1="401.00" y1="72.70" x2="404.20" y2="72.70"/><line x1="718.10" y1="72.70" x2="714.90" y2="72.70"/><line x1="401.00" y1="34.25" x2="404.20" y2="34.25"/><line x1="718.10" y1="34.25" x2="714.90" y2="34.25"/></g>
<rect x="401.00" y="15.00" width="317.10" height="115.00" fill="none" stroke="#262626" stroke-width="1.00"/>
<rect x="518.70" y="115.20" width="199.60" height="14.90" fill="#fff" stroke="#262626" stroke-width="1.00"/>
<line x1="521.9" y1="122.40" x2="543.6" y2="122.40" stroke="#000" stroke-width="1.2"/>
<line x1="573.3" y1="122.40" x2="595.2" y2="122.40" stroke="#ff00ff" stroke-width="1.5"/>
<line x1="663.9" y1="122.40" x2="685.9" y2="122.40" stroke="#ff0000" stroke-width="1.5"/>
<g stroke="#dedede" stroke-width="0.90"><line x1="432.11" y1="177.80" x2="432.11" y2="293.10"/><line x1="463.83" y1="177.80" x2="463.83" y2="293.10"/><line x1="495.54" y1="177.80" x2="495.54" y2="293.10"/><line x1="527.26" y1="177.80" x2="527.26" y2="293.10"/><line x1="558.97" y1="177.80" x2="558.97" y2="293.10"/><line x1="590.69" y1="177.80" x2="590.69" y2="293.10"/><line x1="622.40" y1="177.80" x2="622.40" y2="293.10"/><line x1="654.12" y1="177.80" x2="654.12" y2="293.10"/><line x1="685.84" y1="177.80" x2="685.84" y2="293.10"/><line x1="401.00" y1="273.95" x2="718.10" y2="273.95"/><line x1="401.00" y1="235.55" x2="718.10" y2="235.55"/><line x1="401.00" y1="197.15" x2="718.10" y2="197.15"/></g>
<path d="M400.40,235.55 L401.03,235.55 L401.67,235.55 L402.30,235.55 L402.94,235.55 L403.57,235.55 L404.21,235.55 L404.84,235.55 L405.47,235.55 L406.11,235.55 L406.74,235.55 L407.38,235.55 L408.01,235.55 L408.65,235.55 L409.28,235.55 L409.91,235.55 L410.55,235.55 L411.18,235.55 L411.82,235.55 L412.45,235.55 L413.09,235.55 L413.72,235.55 L414.35,235.55 L414.99,235.55 L415.62,235.55 L416.26,235.55 L416.89,235.55 L417.53,235.55 L418.16,235.55 L418.79,235.55 L419.43,235.55 L420.06,235.55 L420.70,235.55 L421.33,235.55 L421.97,235.55 L422.60,235.55 L423.23,235.55 L423.87,235.55 L424.50,235.55 L425.14,235.55 L425.77,235.55 L426.41,235.55 L427.04,235.55 L427.67,235.55 L428.31,235.55 L428.94,235.56 L429.58,235.56 L430.21,235.56 L430.85,235.57 L431.48,235.58 L432.11,235.59 L432.75,235.60 L433.38,235.62 L434.02,235.65 L434.65,235.69 L435.29,235.74 L435.92,235.81 L436.56,235.90 L437.19,236.02 L437.82,236.17 L438.46,236.36 L439.09,236.59 L439.73,236.89 L440.36,237.24 L441.00,237.68 L441.63,238.19 L442.26,238.80 L442.90,239.51 L443.53,240.33 L444.17,241.24 L444.80,242.26 L445.44,243.38 L446.07,244.57 L446.70,245.82 L447.34,247.10 L447.97,248.36 L448.61,249.57 L449.24,250.66 L449.88,251.58 L450.51,252.26 L451.14,252.63 L451.78,252.63 L452.41,252.19 L453.05,251.26 L453.68,249.80 L454.32,247.79 L454.95,245.21 L455.58,242.08 L456.22,238.45 L456.85,234.37 L457.49,229.95 L458.12,225.29 L458.76,220.51 L459.39,215.77 L460.02,211.21 L460.66,206.98 L461.29,203.22 L461.93,200.06 L462.56,197.59 L463.20,195.90 L463.83,195.04 L464.46,195.00 L465.10,195.78 L465.73,197.30 L466.37,199.50 L467.00,202.25 L467.64,205.44 L468.27,208.93 L468.90,212.58 L469.54,216.26 L470.17,219.85 L470.81,223.27 L471.44,226.44 L472.08,229.31 L472.71,231.88 L473.34,234.15 L473.98,236.16 L474.61,237.96 L475.25,239.62 L475.88,241.22 L476.52,242.82 L477.15,244.50 L477.78,246.31 L478.42,248.28 L479.05,250.42 L479.69,252.72 L480.32,255.14 L480.96,257.63 L481.59,260.09 L482.22,262.45 L482.86,264.60 L483.49,266.44 L484.13,267.87 L484.76,268.80 L485.40,269.16 L486.03,268.91 L486.66,268.03 L487.30,266.53 L487.93,264.43 L488.57,261.79 L489.20,258.70 L489.84,255.24 L490.47,251.54 L491.10,247.71 L491.74,243.86 L492.37,240.10 L493.01,236.54 L493.64,233.27 L494.28,230.35 L494.91,227.84 L495.54,225.77 L496.18,224.16 L496.81,222.99 L497.45,222.24 L498.08,221.89 L498.72,221.89 L499.35,222.18 L499.99,222.73 L500.62,223.46 L501.25,224.34 L501.89,225.30 L502.52,226.31 L503.16,227.33 L503.79,228.33 L504.43,229.29 L505.06,230.18 L505.69,231.00 L506.33,231.74 L506.96,232.39 L507.60,232.97 L508.23,233.46 L508.87,233.89 L509.50,234.25 L510.13,234.55 L510.77,234.82 L511.40,235.04 L512.04,235.24 L512.67,235.42 L513.31,235.60 L513.94,235.77 L514.57,235.96 L515.21,236.17 L515.84,236.40 L516.48,236.68 L517.11,237.00 L517.75,237.37 L518.38,237.81 L519.01,238.31 L519.65,238.88 L520.28,239.53 L520.92,240.25 L521.55,241.03 L522.19,241.86 L522.82,242.74 L523.45,243.63 L524.09,244.52 L524.72,245.36 L525.36,246.13 L525.99,246.77 L526.63,247.25 L527.26,247.51 L527.89,247.51 L528.53,247.21 L529.16,246.56 L529.80,245.54 L530.43,244.14 L531.07,242.34 L531.70,240.16 L532.33,237.64 L532.97,234.81 L533.60,231.74 L534.24,228.51 L534.87,225.22 L535.51,221.97 L536.14,218.86 L536.77,216.00 L537.41,213.50 L538.04,211.45 L538.68,209.93 L539.31,208.99 L539.95,208.67 L540.58,208.99 L541.21,209.93 L541.85,211.45 L542.48,213.50 L543.12,216.00 L543.75,218.86 L544.39,221.97 L545.02,225.22 L545.65,228.51 L546.29,231.74 L546.92,234.81 L547.56,237.64 L548.19,240.16 L548.83,242.34 L549.46,244.14 L550.09,245.54 L550.73,246.56 L551.36,247.21 L552.00,247.51 L552.63,247.51 L553.27,247.25 L553.90,246.77 L554.53,246.13 L555.17,245.36 L555.80,244.52 L556.44,243.63 L557.07,242.74 L557.71,241.87 L558.34,241.03 L558.97,240.25 L559.61,239.54 L560.24,238.89 L560.88,238.32 L561.51,237.83 L562.15,237.40 L562.78,237.04 L563.42,236.74 L564.05,236.48 L564.68,236.28 L565.32,236.11 L565.95,235.98 L566.59,235.88 L567.22,235.80 L567.86,235.73 L568.49,235.68 L569.12,235.64 L569.76,235.61 L570.39,235.59 L571.03,235.57 L571.66,235.55 L572.30,235.54 L572.93,235.52 L573.56,235.50 L574.20,235.47 L574.83,235.44 L575.47,235.39 L576.10,235.34 L576.74,235.27 L577.37,235.18 L578.00,235.07 L578.64,234.92 L579.27,234.75 L579.91,234.53 L580.54,234.27 L581.18,233.96 L581.81,233.60 L582.44,233.17 L583.08,232.68 L583.71,232.13 L584.35,231.52 L584.98,230.85 L585.62,230.14 L586.25,229.39 L586.88,228.62 L587.52,227.86 L588.15,227.14 L588.79,226.48 L589.42,225.93 L590.06,225.52 L590.69,225.30 L591.32,225.30 L591.96,225.56 L592.59,226.11 L593.23,226.99 L593.86,228.19 L594.50,229.73 L595.13,231.60 L595.76,233.77 L596.40,236.20 L597.03,238.83 L597.67,241.61 L598.30,244.44 L598.94,247.24 L599.57,249.92 L600.20,252.39 L600.84,254.57 L601.47,256.36 L602.11,257.72 L602.74,258.60 L603.38,258.95 L604.01,258.79 L604.64,258.11 L605.28,256.97 L605.91,255.40 L606.55,253.49 L607.18,251.32 L607.82,248.97 L608.45,246.55 L609.08,244.14 L609.72,241.84 L610.35,239.71 L610.99,237.82 L611.62,236.22 L612.26,234.93 L612.89,233.96 L613.52,233.29 L614.16,232.91 L614.79,232.77 L615.43,232.82 L616.06,232.99 L616.70,233.21 L617.33,233.42 L617.96,233.56 L618.60,233.56 L619.23,233.38 L619.87,232.98 L620.50,232.35 L621.14,231.48 L621.77,230.37 L622.40,229.07 L623.04,227.61 L623.67,226.05 L624.31,224.44 L624.94,222.87 L625.58,221.40 L626.21,220.10 L626.85,219.04 L627.48,218.28 L628.11,217.85 L628.75,217.79 L629.38,218.10 L630.02,218.80 L630.65,219.85 L631.29,221.22 L631.92,222.87 L632.55,224.74 L633.19,226.76 L633.82,228.87 L634.46,230.99 L635.09,233.08 L635.73,235.06 L636.36,236.88 L636.99,238.51 L637.63,239.91 L638.26,241.07 L638.90,241.97 L639.53,242.63 L640.17,243.04 L640.80,243.24 L641.43,243.24 L642.07,243.07 L642.70,242.76 L643.34,242.35 L643.97,241.86 L644.61,241.32 L645.24,240.75 L645.87,240.17 L646.51,239.61 L647.14,239.07 L647.78,238.57 L648.41,238.11 L649.05,237.70 L649.68,237.33 L650.31,237.01 L650.95,236.74 L651.58,236.50 L652.22,236.31 L652.85,236.14 L653.49,236.01 L654.12,235.89 L654.75,235.80 L655.39,235.72 L656.02,235.66 L656.66,235.60 L657.29,235.54 L657.93,235.48 L658.56,235.42 L659.19,235.35 L659.83,235.26 L660.46,235.16 L661.10,235.04 L661.73,234.89 L662.37,234.71 L663.00,234.49 L663.63,234.23 L664.27,233.93 L664.90,233.57 L665.54,233.16 L666.17,232.70 L666.81,232.19 L667.44,231.64 L668.07,231.04 L668.71,230.41 L669.34,229.78 L669.98,229.14 L670.61,228.54 L671.25,227.99 L671.88,227.53 L672.51,227.19 L673.15,227.01 L673.78,227.01 L674.42,227.22 L675.05,227.69 L675.69,228.41 L676.32,229.42 L676.95,230.70 L677.59,232.26 L678.22,234.06 L678.86,236.08 L679.49,238.27 L680.13,240.58 L680.76,242.93 L681.39,245.25 L682.03,247.47 L682.66,249.51 L683.30,251.30 L683.93,252.76 L684.57,253.85 L685.20,254.52 L685.84,254.75 L686.47,254.52 L687.10,253.85 L687.74,252.76 L688.37,251.30 L689.01,249.51 L689.64,247.47 L690.28,245.25 L690.91,242.93 L691.54,240.58 L692.18,238.27 L692.81,236.08 L693.45,234.06 L694.08,232.26 L694.72,230.70 L695.35,229.42 L695.98,228.41 L696.62,227.69 L697.25,227.22 L697.89,227.01 L698.52,227.01 L699.16,227.19 L699.79,227.53 L700.42,227.99 L701.06,228.54 L701.69,229.14 L702.33,229.78 L702.96,230.41 L703.60,231.04 L704.23,231.64 L704.86,232.19 L705.50,232.70 L706.13,233.16 L706.77,233.57 L707.40,233.92 L708.04,234.23 L708.67,234.49 L709.30,234.70 L709.94,234.88 L710.57,235.03 L711.21,235.15 L711.84,235.24 L712.48,235.32 L713.11,235.37 L713.74,235.42 L714.38,235.45 L715.01,235.48 L715.65,235.50 L716.28,235.51 L716.92,235.52 L717.55,235.53" fill="none" stroke="#000" stroke-width="1.2" stroke-linejoin="round"/>
<g stroke="#ff00ff" stroke-width="1.2"><line x1="400.40" y1="235.55" x2="717.55" y2="235.55"/></g>
<g stroke="#ff00ff" stroke-width="2"><line x1="463.83" y1="235.55" x2="463.83" y2="197.15"/><line x1="486.03" y1="235.55" x2="486.03" y2="266.27"/><line x1="539.95" y1="235.55" x2="539.95" y2="208.67"/><line x1="603.38" y1="235.55" x2="603.38" y2="258.59"/><line x1="628.75" y1="235.55" x2="628.75" y2="218.27"/><line x1="685.84" y1="235.55" x2="685.84" y2="254.75"/></g>
<path d="M400.40,235.55 L401.03,235.55 L401.67,235.55 L402.30,235.55 L402.94,235.54 L403.57,235.54 L404.21,235.54 L404.84,235.54 L405.47,235.53 L406.11,235.53 L406.74,235.53 L407.38,235.52 L408.01,235.52 L408.65,235.51 L409.28,235.51 L409.91,235.50 L410.55,235.50 L411.18,235.49 L411.82,235.49 L412.45,235.48 L413.09,235.48 L413.72,235.47 L414.35,235.46 L414.99,235.45 L415.62,235.44 L416.26,235.44 L416.89,235.43 L417.53,235.42 L418.16,235.40 L418.79,235.39 L419.43,235.38 L420.06,235.36 L420.70,235.35 L421.33,235.33 L421.97,235.31 L422.60,235.29 L423.23,235.26 L423.87,235.24 L424.50,235.21 L425.14,235.18 L425.77,235.14 L426.41,235.11 L427.04,235.06 L427.67,235.01 L428.31,234.96 L428.94,234.90 L429.58,234.83 L430.21,234.75 L430.85,234.66 L431.48,234.56 L432.11,234.45 L432.75,234.32 L433.38,234.17 L434.02,234.00 L434.65,233.81 L435.29,233.59 L435.92,233.33 L436.56,233.04 L437.19,232.71 L437.82,232.34 L438.46,231.91 L439.09,231.43 L439.73,230.89 L440.36,230.28 L441.00,229.60 L441.63,228.84 L442.26,228.00 L442.90,227.08 L443.53,226.06 L444.17,224.95 L444.80,223.74 L445.44,222.43 L446.07,221.03 L446.70,219.53 L447.34,217.93 L447.97,216.25 L448.61,214.49 L449.24,212.66 L449.88,210.77 L450.51,208.84 L451.14,206.87 L451.78,204.89 L452.41,202.93 L453.05,200.99 L453.68,199.11 L454.32,197.30 L454.95,195.61 L455.58,194.04 L456.22,192.63 L456.85,191.40 L457.49,190.37 L458.12,189.58 L458.76,189.03 L459.39,188.75 L460.02,188.75 L460.66,189.04 L461.29,189.63 L461.93,190.52 L462.56,191.69 L463.20,193.16 L463.83,194.90 L464.46,196.90 L465.10,199.12 L465.73,201.53 L466.37,204.10 L467.00,206.79 L467.64,209.55 L468.27,212.34 L468.90,215.13 L469.54,217.89 L470.17,220.57 L470.81,223.16 L471.44,225.63 L472.08,227.97 L472.71,230.18 L473.34,232.25 L473.98,234.21 L474.61,236.07 L475.25,237.87 L475.88,239.63 L476.52,241.39 L477.15,243.17 L477.78,245.00 L478.42,246.89 L479.05,248.85 L479.69,250.86 L480.32,252.93 L480.96,255.02 L481.59,257.11 L482.22,259.18 L482.86,261.18 L483.49,263.09 L484.13,264.87 L484.76,266.50 L485.40,267.93 L486.03,269.16 L486.66,270.15 L487.30,270.89 L487.93,271.39 L488.57,271.63 L489.20,271.63 L489.84,271.39 L490.47,270.93 L491.10,270.25 L491.74,269.38 L492.37,268.34 L493.01,267.14 L493.64,265.82 L494.28,264.39 L494.91,262.87 L495.54,261.30 L496.18,259.69 L496.81,258.07 L497.45,256.45 L498.08,254.85 L498.72,253.29 L499.35,251.77 L499.99,250.32 L500.62,248.94 L501.25,247.64 L501.89,246.42 L502.52,245.28 L503.16,244.23 L503.79,243.27 L504.43,242.40 L505.06,241.61 L505.69,240.89 L506.33,240.26 L506.96,239.70 L507.60,239.20 L508.23,238.76 L508.87,238.39 L509.50,238.06 L510.13,237.77 L510.77,237.53 L511.40,237.32 L512.04,237.14 L512.67,236.98 L513.31,236.85 L513.94,236.73 L514.57,236.62 L515.21,236.51 L515.84,236.40 L516.48,236.29 L517.11,236.17 L517.75,236.03 L518.38,235.88 L519.01,235.70 L519.65,235.49 L520.28,235.24 L520.92,234.95 L521.55,234.61 L522.19,234.23 L522.82,233.78 L523.45,233.28 L524.09,232.71 L524.72,232.07 L525.36,231.36 L525.99,230.58 L526.63,229.73 L527.26,228.80 L527.89,227.81 L528.53,226.75 L529.16,225.63 L529.80,224.46 L530.43,223.25 L531.07,222.00 L531.70,220.73 L532.33,219.45 L532.97,218.17 L533.60,216.91 L534.24,215.69 L534.87,214.51 L535.51,213.41 L536.14,212.38 L536.77,211.45 L537.41,210.63 L538.04,209.93 L538.68,209.36 L539.31,208.94 L539.95,208.67 L540.58,208.55 L541.21,208.59 L541.85,208.78 L542.48,209.12 L543.12,209.60 L543.75,210.21 L544.39,210.94 L545.02,211.77 L545.65,212.71 L546.29,213.72 L546.92,214.81 L547.56,215.94 L548.19,217.11 L548.83,218.31 L549.46,219.51 L550.09,220.72 L550.73,221.90 L551.36,223.06 L552.00,224.19 L552.63,225.27 L553.27,226.30 L553.90,227.28 L554.53,228.20 L555.17,229.05 L555.80,229.85 L556.44,230.57 L557.07,231.24 L557.71,231.84 L558.34,232.38 L558.97,232.87 L559.61,233.30 L560.24,233.68 L560.88,234.01 L561.51,234.30 L562.15,234.56 L562.78,234.77 L563.42,234.96 L564.05,235.12 L564.68,235.26 L565.32,235.37 L565.95,235.47 L566.59,235.56 L567.22,235.63 L567.86,235.69 L568.49,235.75 L569.12,235.80 L569.76,235.85 L570.39,235.90 L571.03,235.94 L571.66,235.99 L572.30,236.04 L572.93,236.10 L573.56,236.17 L574.20,236.24 L574.83,236.32 L575.47,236.42 L576.10,236.53 L576.74,236.66 L577.37,236.80 L578.00,236.97 L578.64,237.17 L579.27,237.39 L579.91,237.64 L580.54,237.93 L581.18,238.26 L581.81,238.63 L582.44,239.04 L583.08,239.50 L583.71,240.01 L584.35,240.58 L584.98,241.20 L585.62,241.87 L586.25,242.61 L586.88,243.40 L587.52,244.25 L588.15,245.15 L588.79,246.10 L589.42,247.10 L590.06,248.14 L590.69,249.21 L591.32,250.31 L591.96,251.42 L592.59,252.53 L593.23,253.64 L593.86,254.72 L594.50,255.77 L595.13,256.76 L595.76,257.69 L596.40,258.54 L597.03,259.29 L597.67,259.93 L598.30,260.45 L598.94,260.82 L599.57,261.05 L600.20,261.12 L600.84,261.03 L601.47,260.77 L602.11,260.34 L602.74,259.75 L603.38,258.98 L604.01,258.06 L604.64,257.00 L605.28,255.80 L605.91,254.50 L606.55,253.11 L607.18,251.65 L607.82,250.15 L608.45,248.62 L609.08,247.10 L609.72,245.60 L610.35,244.15 L610.99,242.76 L611.62,241.46 L612.26,240.26 L612.89,239.16 L613.52,238.19 L614.16,237.33 L614.79,236.59 L615.43,235.95 L616.06,235.39 L616.70,234.88 L617.33,234.38 L617.96,233.85 L618.60,233.25 L619.23,232.58 L619.87,231.81 L620.50,230.94 L621.14,229.99 L621.77,228.96 L622.40,227.86 L623.04,226.72 L623.67,225.56 L624.31,224.39 L624.94,223.24 L625.58,222.12 L626.21,221.06 L626.85,220.07 L627.48,219.18 L628.11,218.39 L628.75,217.72 L629.38,217.17 L630.02,216.76 L630.65,216.49 L631.29,216.35 L631.92,216.34 L632.55,216.47 L633.19,216.71 L633.82,217.07 L634.46,217.53 L635.09,218.08 L635.73,218.72 L636.36,219.42 L636.99,220.18 L637.63,220.98 L638.26,221.82 L638.90,222.67 L639.53,223.53 L640.17,224.40 L640.80,225.25 L641.43,226.08 L642.07,226.88 L642.70,227.66 L643.34,228.39 L643.97,229.09 L644.61,229.74 L645.24,230.35 L645.87,230.91 L646.51,231.42 L647.14,231.89 L647.78,232.32 L648.41,232.70 L649.05,233.05 L649.68,233.35 L650.31,233.62 L650.95,233.86 L651.58,234.07 L652.22,234.25 L652.85,234.41 L653.49,234.55 L654.12,234.67 L654.75,234.77 L655.39,234.86 L656.02,234.94 L656.66,235.01 L657.29,235.07 L657.93,235.13 L658.56,235.18 L659.19,235.24 L659.83,235.30 L660.46,235.36 L661.10,235.43 L661.73,235.51 L662.37,235.60 L663.00,235.71 L663.63,235.84 L664.27,235.98 L664.90,236.16 L665.54,236.36 L666.17,236.59 L666.81,236.85 L667.44,237.15 L668.07,237.50 L668.71,237.88 L669.34,238.31 L669.98,238.78 L670.61,239.31 L671.25,239.88 L671.88,240.50 L672.51,241.16 L673.15,241.87 L673.78,242.62 L674.42,243.41 L675.05,244.23 L675.69,245.08 L676.32,245.95 L676.95,246.83 L677.59,247.70 L678.22,248.58 L678.86,249.43 L679.49,250.26 L680.13,251.04 L680.76,251.78 L681.39,252.46 L682.03,253.06 L682.66,253.59 L683.30,254.02 L683.93,254.36 L684.57,254.60 L685.20,254.73 L685.84,254.75 L686.47,254.66 L687.10,254.46 L687.74,254.15 L688.37,253.75 L689.01,253.25 L689.64,252.67 L690.28,252.02 L690.91,251.31 L691.54,250.54 L692.18,249.73 L692.81,248.90 L693.45,248.04 L694.08,247.17 L694.72,246.30 L695.35,245.45 L695.98,244.61 L696.62,243.79 L697.25,243.01 L697.89,242.26 L698.52,241.55 L699.16,240.89 L699.79,240.27 L700.42,239.70 L701.06,239.17 L701.69,238.69 L702.33,238.26 L702.96,237.87 L703.60,237.53 L704.23,237.22 L704.86,236.96 L705.50,236.72 L706.13,236.52 L706.77,236.35 L707.40,236.20 L708.04,236.07 L708.67,235.97 L709.30,235.88 L709.94,235.81 L710.57,235.75 L711.21,235.70 L711.84,235.66 L712.48,235.63 L713.11,235.61 L713.74,235.59 L714.38,235.57 L715.01,235.56 L715.65,235.56 L716.28,235.55 L716.92,235.55 L717.55,235.55" fill="none" stroke="#ff0000" stroke-width="1.25" stroke-linejoin="round"/>
<g stroke="#262626" stroke-width="0.8"><line x1="432.11" y1="293.10" x2="432.11" y2="289.90"/><line x1="432.11" y1="177.80" x2="432.11" y2="181.00"/><line x1="463.83" y1="293.10" x2="463.83" y2="289.90"/><line x1="463.83" y1="177.80" x2="463.83" y2="181.00"/><line x1="495.54" y1="293.10" x2="495.54" y2="289.90"/><line x1="495.54" y1="177.80" x2="495.54" y2="181.00"/><line x1="527.26" y1="293.10" x2="527.26" y2="289.90"/><line x1="527.26" y1="177.80" x2="527.26" y2="181.00"/><line x1="558.97" y1="293.10" x2="558.97" y2="289.90"/><line x1="558.97" y1="177.80" x2="558.97" y2="181.00"/><line x1="590.69" y1="293.10" x2="590.69" y2="289.90"/><line x1="590.69" y1="177.80" x2="590.69" y2="181.00"/><line x1="622.40" y1="293.10" x2="622.40" y2="289.90"/><line x1="622.40" y1="177.80" x2="622.40" y2="181.00"/><line x1="654.12" y1="293.10" x2="654.12" y2="289.90"/><line x1="654.12" y1="177.80" x2="654.12" y2="181.00"/><line x1="685.84" y1="293.10" x2="685.84" y2="289.90"/><line x1="685.84" y1="177.80" x2="685.84" y2="181.00"/><line x1="401.00" y1="273.95" x2="404.20" y2="273.95"/><line x1="718.10" y1="273.95" x2="714.90" y2="273.95"/><line x1="401.00" y1="235.55" x2="404.20" y2="235.55"/><line x1="718.10" y1="235.55" x2="714.90" y2="235.55"/><line x1="401.00" y1="197.15" x2="404.20" y2="197.15"/><line x1="718.10" y1="197.15" x2="714.90" y2="197.15"/></g>
<rect x="401.00" y="177.80" width="317.10" height="115.30" fill="none" stroke="#262626" stroke-width="1.00"/>
<rect x="518.70" y="278.00" width="199.60" height="15.20" fill="#fff" stroke="#262626" stroke-width="1.00"/>
<line x1="521.9" y1="285.20" x2="543.6" y2="285.20" stroke="#000" stroke-width="1.2"/>
<line x1="573.3" y1="285.20" x2="595.2" y2="285.20" stroke="#ff00ff" stroke-width="1.5"/>
<line x1="663.9" y1="285.20" x2="685.9" y2="285.20" stroke="#ff0000" stroke-width="1.5"/>
<rect x="26.40" y="14.90" width="81.10" height="24.30" fill="#fff" stroke="none"/>
<path d="M26.40,28.4 C40,27.1 55,26.8 66.4,26.8 S95,27.2 107.50,28.0" fill="none" stroke="#00ff00" stroke-width="1.25"/>
<path d="M65.5,39 L66.4,29.6 L67.3,39" fill="none" stroke="#333" stroke-width="0.9"/>
<circle cx="56.50" cy="26.7" r="2.75" fill="none" stroke="#000" stroke-width="1.15"/>
<circle cx="66.40" cy="26.7" r="2.75" fill="none" stroke="#000" stroke-width="1.15"/>
<circle cx="76.60" cy="26.7" r="2.75" fill="none" stroke="#000" stroke-width="1.15"/>
<rect x="26.40" y="14.90" width="81.10" height="24.30" fill="none" stroke="#ff4848" stroke-width="1"/>
<rect x="154.4" y="36.4" width="21.3" height="14.5" fill="none" stroke="#ff4848" stroke-width="1"/>
<line x1="154.4" y1="39.7" x2="109.5" y2="29.7" stroke="#ff4040" stroke-width="0.85"/>
<path d="M118.9,27.3 L109.2,29.6 L117,34.6" fill="none" stroke="#ff3030" stroke-width="0.9"/>
<path d="M108.7,29.5 L113.5,29.0 L112.8,31.6 Z" fill="#ff0000"/>
</g>
<g filter="url(#bt)"><g font-family="Liberation Sans, sans-serif" stroke="currentColor" stroke-width="0.05" font-size="10.80" fill="#1a1a1a"><text transform="translate(57.52,144.80) scale(0.926,1)" text-anchor="middle">50</text><text transform="translate(89.23,144.80) scale(0.926,1)" text-anchor="middle">100</text><text transform="translate(120.95,144.80) scale(0.926,1)" text-anchor="middle">150</text><text transform="translate(152.66,144.80) scale(0.926,1)" text-anchor="middle">200</text><text transform="translate(184.38,144.80) scale(0.926,1)" text-anchor="middle">250</text><text transform="translate(216.09,144.80) scale(0.926,1)" text-anchor="middle">300</text><text transform="translate(247.81,144.80) scale(0.926,1)" text-anchor="middle">350</text><text transform="translate(279.52,144.80) scale(0.926,1)" text-anchor="middle">400</text><text transform="translate(311.24,144.80) scale(0.926,1)" text-anchor="middle">450</text><text transform="translate(342.95,144.80) scale(0.926,1)" text-anchor="middle">500</text><text transform="translate(22.10,133.20) scale(0.926,1)" text-anchor="end">-2</text><text transform="translate(22.10,105.15) scale(0.926,1)" text-anchor="end">-1</text><text transform="translate(22.10,77.10) scale(0.926,1)" text-anchor="end">0</text><text transform="translate(22.10,49.05) scale(0.926,1)" text-anchor="end">1</text><text transform="translate(22.10,21.00) scale(0.926,1)" text-anchor="end">2</text></g><text font-family="Liberation Sans, sans-serif" stroke="currentColor" stroke-width="0.05" font-size="10.65" fill="#1a1a1a" x="185.00" y="158.80" text-anchor="middle">Time (ms)</text><text font-family="Liberation Sans, sans-serif" stroke="currentColor" stroke-width="0.05" font-size="10.65" fill="#1a1a1a" transform="translate(6.80,73.05) rotate(-90)" text-anchor="middle">Amp.</text><text font-family="Liberation Sans, sans-serif" stroke="currentColor" stroke-width="0.05" font-size="13.00" fill="#000" x="185.00" y="10.20" text-anchor="middle">(a)</text><text font-family="Liberation Sans, sans-serif" stroke="currentColor" stroke-width="0.05" font-size="8.80" fill="#000" x="140" y="125.70">smoothed apparent polarity</text><text font-family="Liberation Sans, sans-serif" stroke="currentColor" stroke-width="0.05" font-size="8.80" fill="#000" x="275" y="125.70">apparent polarity</text><g font-family="Liberation Sans, sans-serif" stroke="currentColor" stroke-width="0.05" font-size="10.80" fill="#1a1a1a"><text transform="translate(57.52,307.70) scale(0.926,1)" text-anchor="middle">50</text><text transform="translate(89.23,307.70) scale(0.926,1)" text-anchor="middle">100</text><text transform="translate(120.95,307.70) scale(0.926,1)" text-anchor="middle">150</text><text transform="translate(152.66,307.70) scale(0.926,1)" text-anchor="middle">200</text><text transform="translate(184.38,307.70) scale(0.926,1)" text-anchor="middle">250</text><text transform="translate(216.09,307.70) scale(0.926,1)" text-anchor="middle">300</text><text transform="translate(247.81,307.70) scale(0.926,1)" text-anchor="middle">350</text><text transform="translate(279.52,307.70) scale(0.926,1)" text-anchor="middle">400</text><text transform="translate(311.24,307.70) scale(0.926,1)" text-anchor="middle">450</text><text transform="translate(342.95,307.70) scale(0.926,1)" text-anchor="middle">500</text><text transform="translate(22.10,295.95) scale(0.926,1)" text-anchor="end">-2</text><text transform="translate(22.10,267.95) scale(0.926,1)" text-anchor="end">-1</text><text transform="translate(22.10,239.95) scale(0.926,1)" text-anchor="end">0</text><text transform="translate(22.10,211.95) scale(0.926,1)" text-anchor="end">1</text><text transform="translate(22.10,183.95) scale(0.926,1)" text-anchor="end">2</text></g><text font-family="Liberation Sans, sans-serif" stroke="currentColor" stroke-width="0.05" font-size="10.65" fill="#1a1a1a" x="185.00" y="321.70" text-anchor="middle">Time (ms)</text><text font-family="Liberation Sans, sans-serif" stroke="currentColor" stroke-width="0.05" font-size="10.65" fill="#1a1a1a" transform="translate(6.80,235.95) rotate(-90)" text-anchor="middle">Amp.</text><text font-family="Liberation Sans, sans-serif" stroke="currentColor" stroke-width="0.05" font-size="13.00" fill="#000" x="185.00" y="173.10" text-anchor="middle">(c)</text><text font-family="Liberation Sans, sans-serif" stroke="currentColor" stroke-width="0.05" font-size="8.80" fill="#000" x="140" y="289.20">smoothed apparent polarity</text><text font-family="Liberation Sans, sans-serif" stroke="currentColor" stroke-width="0.05" font-size="8.80" fill="#000" x="275" y="289.20">apparent polarity</text><g font-family="Liberation Sans, sans-serif" stroke="currentColor" stroke-width="0.05" font-size="10.80" fill="#1a1a1a"><text transform="translate(432.01,144.80) scale(0.926,1)" text-anchor="middle">50</text><text transform="translate(463.73,144.80) scale(0.926,1)" text-anchor="middle">100</text><text transform="translate(495.44,144.80) scale(0.926,1)" text-anchor="middle">150</text><text transform="translate(527.16,144.80) scale(0.926,1)" text-anchor="middle">200</text><text transform="translate(558.87,144.80) scale(0.926,1)" text-anchor="middle">250</text><text transform="translate(590.59,144.80) scale(0.926,1)" text-anchor="middle">300</text><text transform="translate(622.30,144.80) scale(0.926,1)" text-anchor="middle">350</text><text transform="translate(654.02,144.80) scale(0.926,1)" text-anchor="middle">400</text><text transform="translate(685.74,144.80) scale(0.926,1)" text-anchor="middle">450</text><text transform="translate(717.45,144.80) scale(0.926,1)" text-anchor="middle">500</text><text transform="translate(396.70,115.75) scale(0.926,1)" text-anchor="end">-1</text><text transform="translate(396.70,77.30) scale(0.926,1)" text-anchor="end">0</text><text transform="translate(396.70,38.85) scale(0.926,1)" text-anchor="end">1</text></g><text font-family="Liberation Sans, sans-serif" stroke="currentColor" stroke-width="0.05" font-size="10.65" fill="#1a1a1a" x="559.55" y="158.80" text-anchor="middle">Time (ms)</text><text font-family="Liberation Sans, sans-serif" stroke="currentColor" stroke-width="0.05" font-size="10.65" fill="#1a1a1a" transform="translate(381.40,73.10) rotate(-90)" text-anchor="middle">Amp.</text><text font-family="Liberation Sans, sans-serif" stroke="currentColor" stroke-width="0.05" font-size="13.00" fill="#000" x="559.55" y="10.30" text-anchor="middle">(b)</text><text font-family="Liberation Sans, sans-serif" stroke="currentColor" stroke-width="0.05" font-size="8.80" fill="#000" x="546.1" y="125.80">signal</text><text font-family="Liberation Sans, sans-serif" stroke="currentColor" stroke-width="0.05" font-size="8.80" fill="#000" x="597.8" y="125.80">reflection series</text><text font-family="Liberation Sans, sans-serif" stroke="currentColor" stroke-width="0.05" font-size="8.80" fill="#000" x="688.3" y="125.80">E-SAP</text><g font-family="Liberation Sans, sans-serif" stroke="currentColor" stroke-width="0.05" font-size="10.80" fill="#1a1a1a"><text transform="translate(432.01,307.90) scale(0.926,1)" text-anchor="middle">50</text><text transform="translate(463.73,307.90) scale(0.926,1)" text-anchor="middle">100</text><text transform="translate(495.44,307.90) scale(0.926,1)" text-anchor="middle">150</text><text transform="translate(527.16,307.90) scale(0.926,1)" text-anchor="middle">200</text><text transform="translate(558.87,307.90) scale(0.926,1)" text-anchor="middle">250</text><text transform="translate(590.59,307.90) scale(0.926,1)" text-anchor="middle">300</text><text transform="translate(622.30,307.90) scale(0.926,1)" text-anchor="middle">350</text><text transform="translate(654.02,307.90) scale(0.926,1)" text-anchor="middle">400</text><text transform="translate(685.74,307.90) scale(0.926,1)" text-anchor="middle">450</text><text transform="translate(717.45,307.90) scale(0.926,1)" text-anchor="middle">500</text><text transform="translate(396.70,278.55) scale(0.926,1)" text-anchor="end">-1</text><text transform="translate(396.70,240.15) scale(0.926,1)" text-anchor="end">0</text><text transform="translate(396.70,201.75) scale(0.926,1)" text-anchor="end">1</text></g><text font-family="Liberation Sans, sans-serif" stroke="currentColor" stroke-width="0.05" font-size="10.65" fill="#1a1a1a" x="559.55" y="321.90" text-anchor="middle">Time (ms)</text><text font-family="Liberation Sans, sans-serif" stroke="currentColor" stroke-width="0.05" font-size="10.65" fill="#1a1a1a" transform="translate(381.40,236.05) rotate(-90)" text-anchor="middle">Amp.</text><text font-family="Liberation Sans, sans-serif" stroke="currentColor" stroke-width="0.05" font-size="13.00" fill="#000" x="559.55" y="173.10" text-anchor="middle">(d)</text><text font-family="Liberation Sans, sans-serif" stroke="currentColor" stroke-width="0.05" font-size="8.80" fill="#000" x="546.1" y="288.60">signal</text><text font-family="Liberation Sans, sans-serif" stroke="currentColor" stroke-width="0.05" font-size="8.80" fill="#000" x="597.8" y="288.60">reflection series</text><text font-family="Liberation Sans, sans-serif" stroke="currentColor" stroke-width="0.05" font-size="8.80" fill="#000" x="688.3" y="288.60">E-SAP</text></g>
</svg></body></html>
